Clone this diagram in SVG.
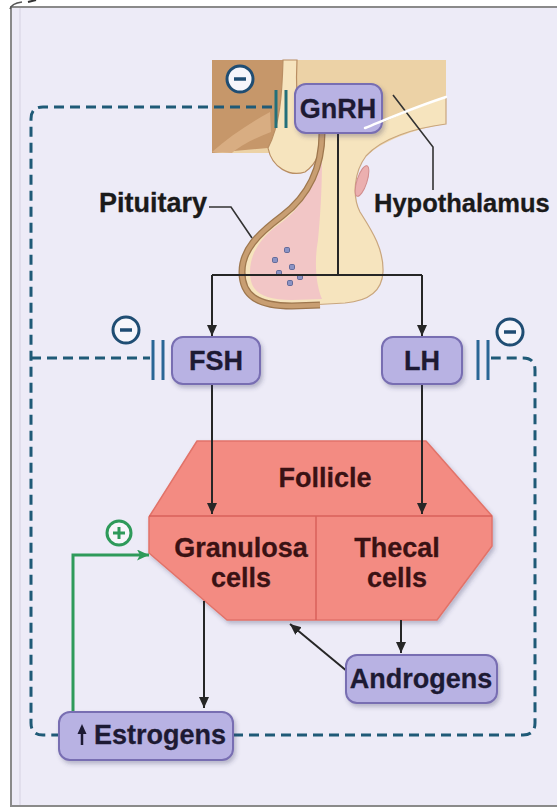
<svg xmlns="http://www.w3.org/2000/svg" width="557" height="808" viewBox="0 0 557 808">
  <defs>
    <style>
      .lbl { font-family: "Liberation Sans", Arial, sans-serif; font-weight: bold; font-size: 27px; fill: #1D1A33; text-anchor: middle; stroke: #1D1A33; stroke-width: 0.3; }
      .side { font-family: "Liberation Sans", Arial, sans-serif; font-weight: bold; font-size: 27px; fill: #1A1A1A; stroke: #1A1A1A; stroke-width: 0.3; }
      .fol { font-family: "Liberation Sans", Arial, sans-serif; font-weight: bold; font-size: 27px; fill: #3A1214; text-anchor: middle; stroke: #3A1214; stroke-width: 0.3; }
      .box { fill: #B8B2E3; stroke: #786EB2; stroke-width: 2; }
      .arrow { fill: none; stroke: #262626; stroke-width: 2; }
      .dash { fill: none; stroke: #1F5A77; stroke-width: 3; stroke-dasharray: 10 6; }
      .bar { stroke: #2B6796; stroke-width: 3; }
      .inh { fill: #F6F6FB; stroke: #1F4D73; stroke-width: 3; }
      .leader { fill: none; stroke: #333; stroke-width: 1.6; }
    </style>
    <marker id="head" markerWidth="12" markerHeight="12" refX="11" refY="5" orient="auto" markerUnits="userSpaceOnUse">
      <path d="M0,0 L11,5 L0,10 Z" fill="#262626"/>
    </marker>
    <marker id="headGreen" markerWidth="14" markerHeight="12" refX="12" refY="5.5" orient="auto" markerUnits="userSpaceOnUse">
      <path d="M0,0 L12,5.5 L0,11 L3,5.5 Z" fill="#2E9A5A"/>
    </marker>
    <filter id="shadow" x="-20%" y="-20%" width="150%" height="160%">
      <feDropShadow dx="2" dy="3" stdDeviation="2" flood-color="#3A3460" flood-opacity="0.3"/>
    </filter>
  </defs>

  <!-- page and panel frame -->
  <rect x="0" y="0" width="557" height="808" fill="#FFFFFF"/>
  <rect x="11" y="7" width="560" height="799" fill="#EDEBF7" stroke="#8A8A8A" stroke-width="2"/>
  <line x1="20" y1="8" x2="20" y2="805" stroke="#DCDAE8" stroke-width="1.5"/>
  <path d="M10,9 C11,5 15,3 22,2" fill="none" stroke="#555" stroke-width="1.5"/>
  <path d="M28,2 L36,0" stroke="#333" stroke-width="2"/>

  <!-- hypothalamus / pituitary illustration -->
  <g id="anatomy">
    <rect x="212" y="60" width="234" height="93" fill="#ECD2A6"/>
    <path d="M446,124 C420,128 388,138 370,153 L446,153 Z" fill="#EDEBF7"/>
    <path d="M212,60 H283 C282,95 280,125 268,148 L212,153 Z" fill="#C6976A"/>
    <path d="M212,152 C228,138 248,124 270,112 L271,132 C255,138 240,146 232,153 Z" fill="#D8AD82"/>
    <path d="M283,60 H297 C296,80 296,100 300,120 L322,133 C321,150 318,163 305,172 C290,177 272,168 268,148 C280,125 282,95 283,60 Z" fill="#F6E4BE" stroke="#B98E63" stroke-width="1.2"/>
    <path d="M322,133 C322,165 310,195 282,216 C258,234 242,250 242,272 C242,296 258,306 292,306 L345,303 C368,301 382,292 383,272 C384,248 370,228 360,212 C352,196 354,172 366,156 C382,138 415,128 446,124 L446,97 C420,106 392,117 372,127 L360,133 Z" fill="#F6E4BE" stroke="#C9A67E" stroke-width="1.2"/>
    <path d="M318,160 C314,190 298,210 282,222 C262,236 250,252 250,272 C250,292 262,300 292,300 L322,299 C316,285 314,262 318,240 C320,220 322,190 322,160 Z" fill="#F2C6C6"/>
    <path d="M322,133 C322,165 310,195 282,216 C258,234 242,250 242,272 C242,296 258,306 292,306 L320,305" fill="none" stroke="#9E774E" stroke-width="7"/>
    <path d="M322,133 C322,165 310,195 282,216 C258,234 242,250 242,272 C242,296 258,306 292,306 L320,305" fill="none" stroke="#C89E72" stroke-width="4.5"/>
    <ellipse cx="362" cy="181" rx="5" ry="16" transform="rotate(18 362 181)" fill="#EBAFAF" stroke="#D08C8C" stroke-width="1"/>
    <g fill="#8B93C4" stroke="#4E5A8E" stroke-width="0.8">
      <rect x="284.5" y="247.5" width="5" height="5" rx="1.2"/>
      <rect x="272.5" y="257.5" width="5" height="5" rx="1.2"/>
      <rect x="289.5" y="264.5" width="5" height="5" rx="1.2"/>
      <rect x="276.5" y="270.5" width="5" height="5" rx="1.2"/>
      <rect x="297.5" y="274.5" width="5" height="5" rx="1.2"/>
      <rect x="287.5" y="280.5" width="5" height="5" rx="1.2"/>
    </g>
  </g>

  <!-- follicle -->
  <g id="follicle">
    <path d="M197,441 H426 L492,516 V546 L437,620 H227 L149,553 V517 Z" fill="#F38B82" stroke="#E27369" stroke-width="1.5" stroke-linejoin="round" filter="url(#shadow)"/>
    <line x1="149" y1="516" x2="492" y2="516" stroke="#D8615A" stroke-width="1.5"/>
    <line x1="316" y1="516" x2="316" y2="620" stroke="#D8615A" stroke-width="1.5"/>
    <text class="fol" x="325" y="487">Follicle</text>
    <text class="fol" x="241" y="557">Granulosa</text>
    <text class="fol" x="241" y="587">cells</text>
    <text class="fol" x="397" y="557">Thecal</text>
    <text class="fol" x="397" y="587">cells</text>
  </g>

  <!-- connectors -->
  <g id="connectors">
    <!-- negative feedback loop (dashed) -->
    <path class="dash" d="M272,107 H43 Q31,107 31,119 V723 Q31,735 43,735 H60"/>
    <path class="dash" d="M233,735 H523 Q535,735 535,723 V370 Q535,358 523,358 H491"/>
    <path class="dash" d="M31,358 H150"/>
    <!-- inhibition bars -->
    <line class="bar" x1="276" y1="90" x2="276" y2="128" style="stroke:#24707A"/>
    <line class="bar" x1="286" y1="90" x2="286" y2="128" style="stroke:#24707A"/>
    <line class="bar" x1="153" y1="340" x2="153" y2="380"/>
    <line class="bar" x1="163" y1="340" x2="163" y2="380"/>
    <line class="bar" x1="478" y1="340" x2="478" y2="380"/>
    <line class="bar" x1="488" y1="340" x2="488" y2="380"/>
    <!-- GnRH to FSH / LH -->
    <path class="arrow" d="M338,133 V275"/>
    <path class="arrow" d="M212,275 H422"/>
    <path class="arrow" d="M212,275 V336" marker-end="url(#head)"/>
    <path class="arrow" d="M422,275 V336" marker-end="url(#head)"/>
    <!-- FSH / LH to follicle -->
    <path class="arrow" d="M212,383 V514" marker-end="url(#head)"/>
    <path class="arrow" d="M422,383 V514" marker-end="url(#head)"/>
    <!-- follicle outputs -->
    <path class="arrow" d="M204,601 V708" marker-end="url(#head)"/>
    <path class="arrow" d="M401,620 V653" marker-end="url(#head)"/>
    <path class="arrow" d="M348,672 L290,624" marker-end="url(#head)"/>
    <!-- positive feedback (green) -->
    <path d="M73,712 V555 H149" fill="none" stroke="#2E9A5A" stroke-width="3" marker-end="url(#headGreen)"/>
    <!-- leader lines of the side labels -->
    <path class="leader" d="M209,207 H231 L252,238"/>
    <path class="leader" d="M393,95 L433,147 V190"/>
  </g>

  <!-- feedback signs -->
  <g id="sign-gnrh">
    <circle class="inh" cx="240" cy="79" r="13"/>
    <line x1="234" y1="79" x2="246" y2="79" stroke="#1F4D73" stroke-width="3.5"/>
  </g>
  <g id="sign-fsh">
    <circle class="inh" cx="126" cy="330" r="13"/>
    <line x1="120" y1="330" x2="132" y2="330" stroke="#1F4D73" stroke-width="3.5"/>
  </g>
  <g id="sign-lh">
    <circle class="inh" cx="510" cy="332" r="13"/>
    <line x1="504" y1="332" x2="516" y2="332" stroke="#1F4D73" stroke-width="3.5"/>
  </g>
  <g id="sign-estrogen">
    <circle cx="119" cy="533" r="12" fill="#F6F6FB" stroke="#2E9A5A" stroke-width="3"/>
    <path d="M119,527 V539 M113,533 H125" stroke="#2E9A5A" stroke-width="3"/>
  </g>

  <!-- hormone nodes -->
  <g id="gnrh">
    <rect class="box" x="295" y="84" width="87" height="49" rx="11" filter="url(#shadow)"/>
    <text class="lbl" x="338" y="118">GnRH</text>
  </g>
  <path d="M365,128 C385,120 415,107 446,97" fill="none" stroke="#FFFFFF" stroke-width="2.5" stroke-linecap="round"/>

  <g id="fsh">
    <rect class="box" x="172" y="337" width="88" height="47" rx="11" filter="url(#shadow)"/>
    <text class="lbl" x="216" y="370">FSH</text>
  </g>
  <g id="lh">
    <rect class="box" x="382" y="337" width="80" height="47" rx="11" filter="url(#shadow)"/>
    <text class="lbl" x="422" y="370">LH</text>
  </g>

  <g id="androgens">
    <rect class="box" x="346" y="655" width="151" height="48" rx="11" filter="url(#shadow)"/>
    <text class="lbl" x="421" y="688">Androgens</text>
  </g>
  <g id="estrogens">
    <rect class="box" x="59" y="712" width="174" height="48" rx="11" filter="url(#shadow)"/>
    <path d="M82,745 V731" stroke="#1D1A33" stroke-width="2.5"/>
    <path d="M82,724 L77.5,734 H86.5 Z" fill="#1D1A33"/>
    <text class="lbl" x="94" y="744" style="text-anchor:start">Estrogens</text>
  </g>

  <!-- side labels -->
  <text class="side" x="207" y="212" text-anchor="end">Pituitary</text>
  <text class="side" x="374" y="212" style="font-size:25.5px">Hypothalamus</text>
</svg>
